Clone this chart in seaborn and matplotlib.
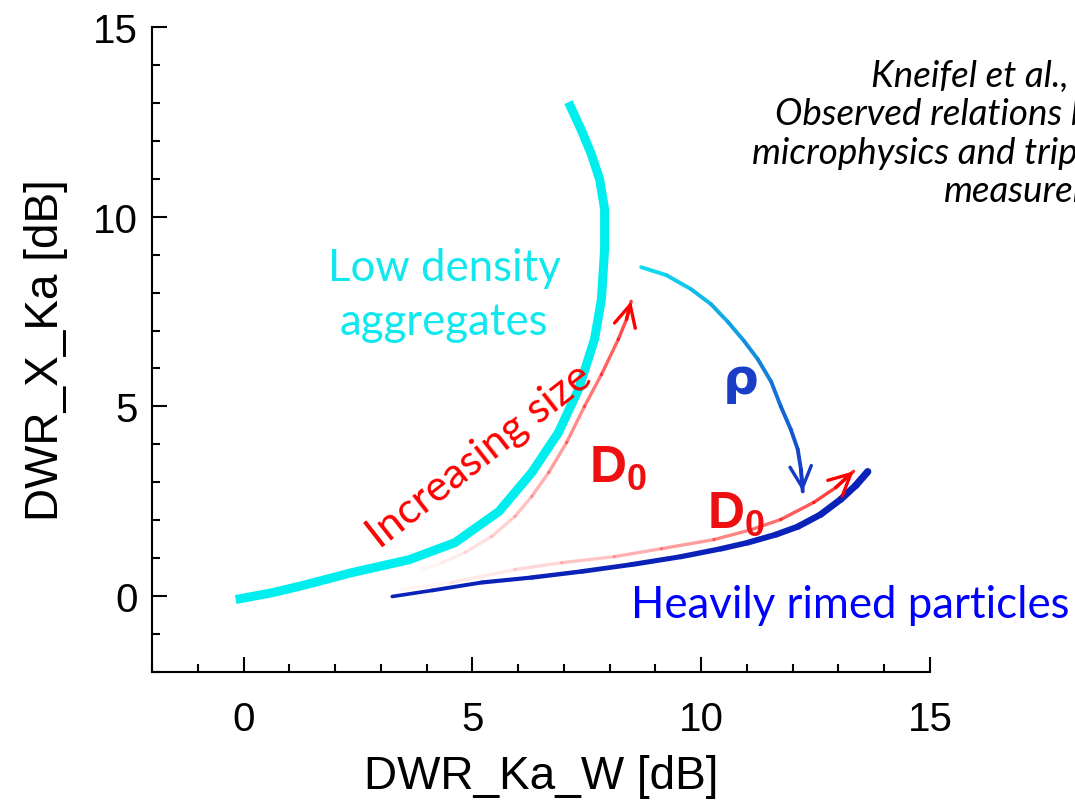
import numpy as np
import pandas as pd
import seaborn as sns
import matplotlib
matplotlib.use("Agg")
import matplotlib.pyplot as plt
import matplotlib.ticker as ticker
from matplotlib.collections import LineCollection
from matplotlib.colors import to_rgba

# Curves (DWR_Ka_W, DWR_X_Ka in dB)
aggregates_x = [-0.17, 0.63, 1.29, 2.37, 3.62, 4.62, 5.58, 6.30, 6.88, 7.32, 7.67, 7.82, 7.89, 7.89, 7.78, 7.60, 7.39, 7.10]
aggregates_y = [-0.09, 0.09, 0.28, 0.62, 0.96, 1.41, 2.23, 3.26, 4.31, 5.45, 6.77, 7.82, 9.14, 10.20, 10.99, 11.65, 12.26, 13.02]

rimed_x = [3.25, 4.12, 5.21, 6.30, 7.39, 8.47, 9.56, 10.44, 11.02, 11.63, 12.11, 12.61, 13.05, 13.38, 13.64]
rimed_y = [-0.01, 0.15, 0.36, 0.49, 0.65, 0.83, 1.04, 1.25, 1.41, 1.62, 1.83, 2.15, 2.55, 2.92, 3.28]

size_arrow_x = [3.90, 4.34, 4.84, 5.42, 5.93, 6.30, 6.67, 7.06, 7.45, 7.82, 8.19, 8.37, 8.47]
size_arrow_y = [0.70, 0.88, 1.15, 1.57, 2.10, 2.63, 3.26, 4.05, 5.00, 5.84, 6.77, 7.30, 7.77]

rime_arrow_x = [3.46, 4.55, 5.93, 6.95, 8.10, 9.13, 10.28, 11.09, 11.74, 12.46, 12.94, 13.33]
rime_arrow_y = [0.17, 0.36, 0.70, 0.88, 1.04, 1.25, 1.49, 1.75, 2.02, 2.47, 2.86, 3.29]

rho_arrow_x = [8.69, 9.24, 9.78, 10.22, 10.59, 10.94, 11.24, 11.53, 11.74, 11.96, 12.11, 12.18, 12.22]
rho_arrow_y = [8.67, 8.46, 8.09, 7.69, 7.22, 6.72, 6.24, 5.65, 5.00, 4.39, 3.87, 3.34, 2.76]

CYAN = "#00eeee"
RIMED_BLUE = "#0a22b8"
RED = "#ff0000"

sns.set_theme(style="white")
plt.rcParams["font.family"] = ["Liberation Sans", "DejaVu Sans"]
plt.rcParams["mathtext.default"] = "regular"

fig = plt.figure(figsize=(10.75, 8.03), dpi=100)
ax = fig.add_axes([0.1414, 0.1619, 0.8651 - 0.1414, 0.9651 - 0.1619])


def gradient_line(xs, ys, colors, lws):
    pts = np.column_stack([xs, ys])
    segs = np.stack([pts[:-1], pts[1:]], axis=1)
    lc = LineCollection(segs, colors=colors, linewidths=lws, capstyle="round", joinstyle="round")
    ax.add_collection(lc)


def arrow_head(xs, ys, color, lw):
    ax.annotate("", xy=(xs[-1], ys[-1]), xytext=(xs[-2], ys[-2]),
                arrowprops=dict(arrowstyle="->,head_length=0.7,head_width=0.35",
                                color=color, lw=lw, shrinkA=0, shrinkB=0,
                                mutation_scale=22))


# low density aggregates
agg = pd.DataFrame({"x": aggregates_x, "y": aggregates_y})
sns.lineplot(data=agg, x="x", y="y", sort=False, estimator=None, color=CYAN,
             lw=6.5, ax=ax, solid_capstyle="butt", solid_joinstyle="round")

# heavily rimed, thin at the start and thicker to the right
n = len(rimed_x) - 1
gradient_line(rimed_x, rimed_y, [RIMED_BLUE] * n,
              [2.6 + 2.6 * i / (n - 1) for i in range(n)])

# fading red D0 arrows
n = len(size_arrow_x) - 1
gradient_line(size_arrow_x, size_arrow_y,
              [to_rgba(RED, 0.04 + 0.75 * (i / (n - 1)) ** 1.3) for i in range(n)], 2.4)
arrow_head(size_arrow_x, size_arrow_y, RED, 2.4)

n = len(rime_arrow_x) - 1
gradient_line(rime_arrow_x, rime_arrow_y,
              [to_rgba(RED, 0.04 + 0.8 * (i / (n - 1)) ** 1.2) for i in range(n)], 2.4)
arrow_head(rime_arrow_x, rime_arrow_y, RED, 2.4)

# density arrow cyan -> blue
n = len(rho_arrow_x) - 1
c0 = np.array(to_rgba("#10d8f0"))
c1 = np.array(to_rgba("#1438c8"))
gradient_line(rho_arrow_x, rho_arrow_y,
              [tuple(c0 + (c1 - c0) * i / (n - 1)) for i in range(n)], 2.8)
arrow_head(rho_arrow_x, rho_arrow_y, "#1438c8", 2.4)

# annotations
ann_font = ["Lato", "DejaVu Sans"]
ax.text(4.38, 7.95, "Low density\naggregates", color="#10e8ee", fontsize=31.5,
        family=ann_font, ha="center", va="center", linespacing=1.4)
ax.text(5.16, 3.73, "Increasing size", color=RED, fontsize=31, family=ann_font,
        ha="center", va="center", rotation=38, rotation_mode="anchor")
ax.text(8.19, 3.39, "D$_0$", color="#ee1010", fontsize=37, fontweight="bold",
        ha="center", va="center")
ax.text(10.76, 2.2, "D$_0$", color="#ee1010", fontsize=37, fontweight="bold",
        ha="center", va="center")
ax.text(10.87, 5.71, "ρ", color="#1a3ec8", fontsize=36, fontweight="bold",
        family=["DejaVu Sans"], ha="center", va="center")
ax.text(8.47, -0.22, "Heavily rimed particles", color="#0000ff", fontsize=31.5,
        family=ann_font, ha="left", va="center")

fig.text(1056 / 1075, 1 - 134 / 803,
         "Kneifel et al., 2015, JGR\nObserved relations between snowfall\n"
         "microphysics and triple-frequency radar\nmeasurements",
         ha="center", va="center", fontsize=26.5, style="italic",
         family=ann_font, linespacing=1.2, color="black")

# axes styling
ax.set_xlim(-2, 15)
ax.set_ylim(-2, 15)
ax.set_xlabel("DWR_Ka_W [dB]", fontsize=33, labelpad=12, color="black")
ax.set_ylabel("DWR_X_Ka [dB]", fontsize=33, labelpad=18, color="black")
ax.xaxis.set_major_locator(ticker.MultipleLocator(5))
ax.xaxis.set_minor_locator(ticker.MultipleLocator(1))
ax.yaxis.set_major_locator(ticker.MultipleLocator(5))
ax.yaxis.set_minor_locator(ticker.MultipleLocator(1))
ax.tick_params(which="both", direction="in", colors="black", labelcolor="black",
               width=1.5, labelsize=29, bottom=True, left=True)
ax.tick_params(which="major", length=11)
ax.tick_params(which="minor", length=6)
ax.tick_params(axis="x", which="major", pad=20)
ax.tick_params(axis="y", which="major", pad=10)
ax.grid(False)
sns.despine(ax=ax)
for s in ("left", "bottom"):
    ax.spines[s].set_color("black")
    ax.spines[s].set_linewidth(1.5)

fig.savefig("out.png", dpi=100)
